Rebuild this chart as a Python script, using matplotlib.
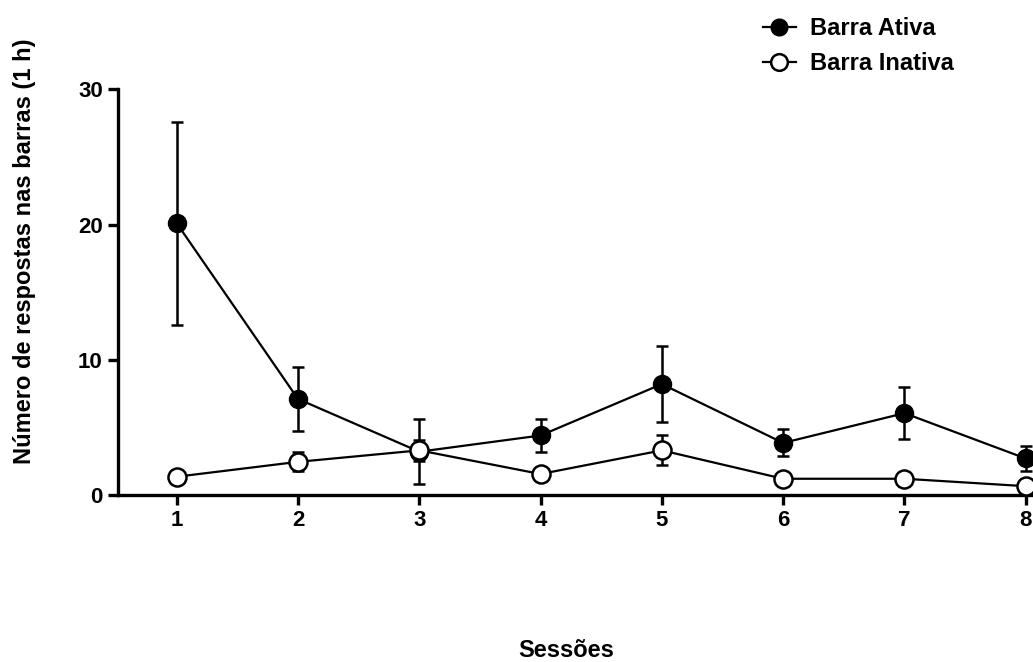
import matplotlib.pyplot as plt
from matplotlib.lines import Line2D

plt.rcParams['font.family'] = ['Liberation Sans', 'DejaVu Sans']
plt.rcParams['font.weight'] = 'bold'

sessoes = [1, 2, 3, 4, 5, 6, 7, 8]
ativa = [20.1, 7.1, 3.2, 4.4, 8.2, 3.85, 6.05, 2.7]
ativa_ep = [7.5, 2.4, 2.4, 1.2, 2.8, 1.0, 1.9, 0.9]
inativa = [1.35, 2.45, 3.3, 1.55, 3.3, 1.2, 1.2, 0.65]
inativa_ep = [0.3, 0.7, 0.8, 0.3, 1.1, 0.3, 0.5, 0.2]

fig = plt.figure(figsize=(10.33, 6.62), dpi=100)
ax = fig.add_axes([0.1142, 0.2523, 0.8858, 0.6128])

ax.errorbar(sessoes, ativa, yerr=ativa_ep, fmt='-o', color='black',
            markerfacecolor='black', markeredgecolor='black', markersize=13,
            linewidth=1.6, elinewidth=1.8, capsize=4, capthick=1.8,
            zorder=3, clip_on=False)
ax.errorbar(sessoes, inativa, yerr=inativa_ep, fmt='-o', color='black',
            markerfacecolor='white', markeredgecolor='black', markersize=13,
            markeredgewidth=1.8, linewidth=1.6, elinewidth=1.8, capsize=4,
            capthick=1.8, zorder=4, clip_on=False)

ax.set_xlim(0.516, 8.06)
ax.set_ylim(0, 30)
ax.set_xticks(sessoes)
ax.set_yticks([0, 10, 20, 30])

for s in ['top', 'right']:
    ax.spines[s].set_visible(False)
for s in ['left', 'bottom']:
    ax.spines[s].set_linewidth(2.4)
ax.tick_params(axis='both', direction='out', length=7, width=2.4,
               labelsize=16, pad=4)

ax.set_xlabel('Sessões', fontsize=17, fontweight='bold')
ax.xaxis.set_label_coords(0.49, -0.355)
ax.set_ylabel('Número de respostas nas barras (1 h)', fontsize=17,
              fontweight='bold')
ax.yaxis.set_label_coords(-0.09, 0.6)

# legend handles: line through marker, no error bars
h_ativa = Line2D([], [], color='black', marker='o', markersize=12,
                 markerfacecolor='black', linewidth=1.6)
h_inativa = Line2D([], [], color='black', marker='o', markersize=12,
                   markerfacecolor='white', markeredgewidth=1.8, linewidth=1.6)
fig.legend([h_ativa, h_inativa], ['Barra Ativa', 'Barra Inativa'],
           loc='upper left', bbox_to_anchor=(0.718, 1.006), frameon=False,
           fontsize=17, handlelength=1.4, handletextpad=0.6,
           labelspacing=0.5)

fig.savefig('out.png', dpi=100)
